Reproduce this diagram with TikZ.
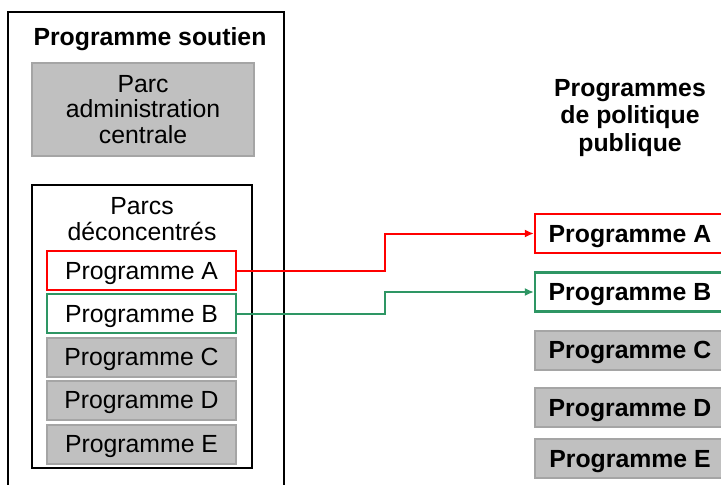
\documentclass[tikz,border=0pt]{standalone}
\usepackage{fontspec}
\setmainfont{Liberation Sans}
\usetikzlibrary{arrows.meta}
\definecolor{progred}{RGB}{255,0,0}
\definecolor{proggreen}{RGB}{46,150,100}
\definecolor{boxgray}{RGB}{192,192,192}
\definecolor{edgegray}{RGB}{165,165,165}
\newcommand{\progfont}{\fontsize{12.4}{12.8}\selectfont}
\tikzset{
  frame/.style={draw=black, line width=0.7pt, inner sep=0pt},
  prog/.style={inner sep=0pt, minimum height=19.5pt, text height=8.9pt, text depth=0pt},
  grayprog/.style={draw=edgegray, fill=boxgray, line width=1pt, inner sep=0pt},
  redprog/.style={prog, draw=progred, fill=white, line width=1.1pt},
  greenprog/.style={prog, draw=proggreen, fill=white, line width=1.1pt},
  leftprog/.style={prog, minimum width=94.5pt},
  rightprog/.style={prog, minimum width=95pt, font=\progfont\bfseries},
  link/.style={line width=1pt, -{Latex[length=4.5pt,width=4pt]}}
}
\begin{document}
\begin{tikzpicture}[x=0.5pt,y=-0.5pt, every node/.style={font=\progfont, align=center}]
\useasboundingbox (0,0) rectangle (721,484);
\clip (0,0) rectangle (721,484);
\fill[white] (0,0) rectangle (721,484);

\node[frame, minimum width=138pt, minimum height=250pt] (soutien) at (146,262) {};
\node (titresoutien) at (150,39) {\bfseries Programme soutien};
\node[grayprog, minimum width=111pt, minimum height=46.5pt] (central) at (143,109.5) {Parc\\administration\\centrale};
\node[frame, minimum width=110pt, minimum height=141.5pt] (deconc) at (142,326.5) {};
\node (titredeconc) at (142,219) {Parcs\\déconcentrés};

\node[redprog, leftprog] (lA) at (141.5,270.5) {Programme A};
\node[greenprog, leftprog] (lB) at (141.5,313.5) {Programme B};
\node[grayprog, leftprog] (lC) at (141.5,357) {Programme C};
\node[grayprog, leftprog] (lD) at (141.5,400) {Programme D};
\node[grayprog, leftprog] (lE) at (141.5,444) {Programme E};

\node[font=\fontsize{12.4}{13.75}\selectfont\bfseries] (titrepolitique) at (630,118) {Programmes\\de politique\\publique};
\node[redprog, rightprog] (rA) at (630,233.5) {Programme A};
\node[greenprog, rightprog] (rB) at (630,292) {Programme B};
\node[grayprog, rightprog] (rC) at (630,350) {Programme C};
\node[grayprog, rightprog] (rD) at (630,407.5) {Programme D};
\node[grayprog, rightprog] (rE) at (630,458.5) {Programme E};

\draw[link, progred] (lA.east) -| (385,236) |- (rA.west);
\draw[link, proggreen] (lB.east) -| (385,293) |- (rB.west);
\end{tikzpicture}
\end{document}
